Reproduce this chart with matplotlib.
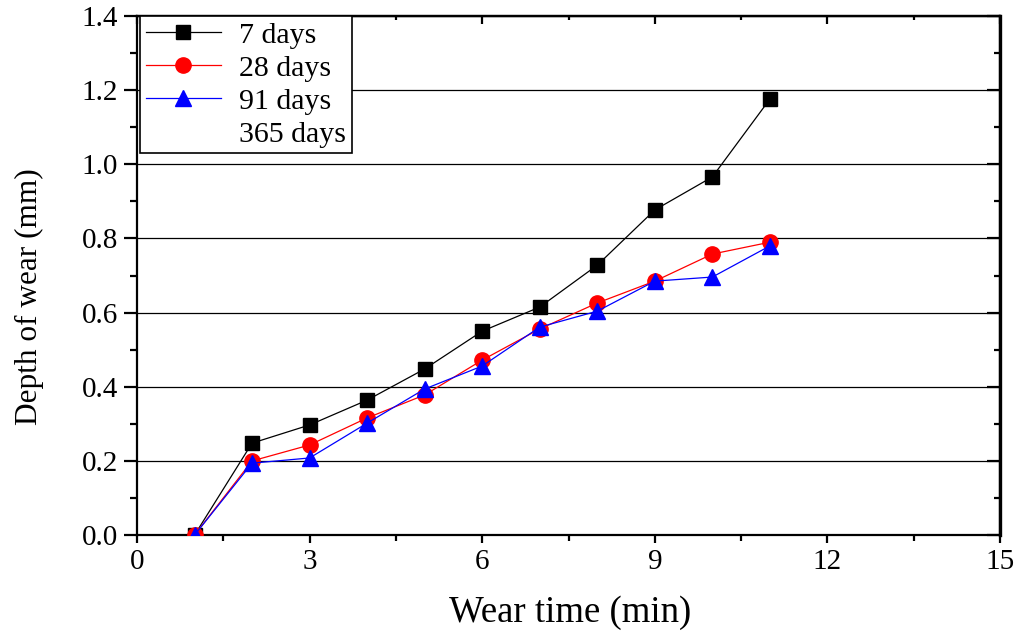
import matplotlib
matplotlib.use("Agg")
import matplotlib.pyplot as plt
from matplotlib.ticker import MultipleLocator

plt.rcParams['font.family'] = ['Liberation Serif', 'DejaVu Serif']

wear_time = [1, 2, 3, 4, 5, 6, 7, 8, 9, 10, 11]
depth_7 = [0.0, 0.248, 0.297, 0.364, 0.448, 0.550, 0.615, 0.728, 0.877, 0.966, 1.176]
depth_28 = [0.0, 0.200, 0.243, 0.316, 0.378, 0.472, 0.556, 0.626, 0.685, 0.758, 0.790]
depth_91 = [0.0, 0.194, 0.208, 0.302, 0.394, 0.456, 0.561, 0.604, 0.685, 0.696, 0.780]
labels = ["7 days", "28 days", "91 days", "365 days"]

fig = plt.figure(figsize=(10.26, 6.31), dpi=100)
ax = fig.add_axes([0.1335, 0.152, 0.8412, 0.8226])

ax.plot(wear_time, depth_7, color='black', lw=0.9, marker='s', ms=10, label=labels[0], zorder=3)
ax.plot(wear_time, depth_28, color='red', lw=0.9, marker='o', ms=11, label=labels[1], zorder=4)
ax.plot(wear_time, depth_91, color='blue', lw=0.9, marker='^', ms=12, label=labels[2], zorder=5)
ax.plot([], [], color='none', label=labels[3])

ax.set_xlim(0, 15)
ax.set_ylim(0, 1.4)
ax.xaxis.set_major_locator(MultipleLocator(3))
ax.xaxis.set_minor_locator(MultipleLocator(1.5))
ax.yaxis.set_major_locator(MultipleLocator(0.2))
ax.yaxis.set_minor_locator(MultipleLocator(0.1))
ax.yaxis.set_major_formatter(plt.FormatStrFormatter('%.1f'))

ax.yaxis.grid(True, which='major', color='black', lw=0.9)
ax.set_axisbelow(True)

for s in ax.spines.values():
    s.set_linewidth(1.6)

ax.tick_params(axis='both', which='both', labelsize=21, width=1.6)
ax.tick_params(axis='x', which='major', direction='out', length=6, top=False, pad=4)
ax.tick_params(axis='x', which='minor', direction='out', length=4.5, top=False)
ax.tick_params(axis='y', which='major', direction='out', length=9.5, right=False, pad=4)
ax.tick_params(axis='y', which='minor', direction='out', length=5, right=False)

# Inward ticks on the top and right edges
sec_x = ax.secondary_xaxis('top')
sec_x.xaxis.set_major_locator(MultipleLocator(3))
sec_x.xaxis.set_minor_locator(MultipleLocator(1.5))
sec_x.tick_params(which='major', direction='in', length=6, width=1.6, labeltop=False)
sec_x.tick_params(which='minor', direction='in', length=3, width=1.6)
sec_x.spines['top'].set_linewidth(1.6)
sec_y = ax.secondary_yaxis('right')
sec_y.yaxis.set_major_locator(MultipleLocator(0.2))
sec_y.yaxis.set_minor_locator(MultipleLocator(0.1))
sec_y.tick_params(which='major', direction='in', length=9.5, width=1.6, labelright=False)
sec_y.tick_params(which='minor', direction='in', length=4.5, width=1.6)
sec_y.spines['right'].set_linewidth(2.4)

ax.set_xlabel("Wear time (min)", fontsize=26.5, va='center')
ax.xaxis.set_label_coords(0.502, -0.15)
ax.set_ylabel("Depth of wear (mm)", fontsize=22.5, va='center', ha='center')
ax.yaxis.set_label_coords(-0.124, 0.459)

leg = ax.legend(loc='upper left', bbox_to_anchor=(0.0035, 1.0), fontsize=21.5,
                frameon=True, fancybox=False, edgecolor='black', borderaxespad=0.0,
                handlelength=2.5, labelspacing=0.2, borderpad=0.2, handletextpad=0.6)
leg.get_frame().set_linewidth(1.2)
leg.get_frame().set_alpha(1)

fig.savefig("out.png", dpi=100)
